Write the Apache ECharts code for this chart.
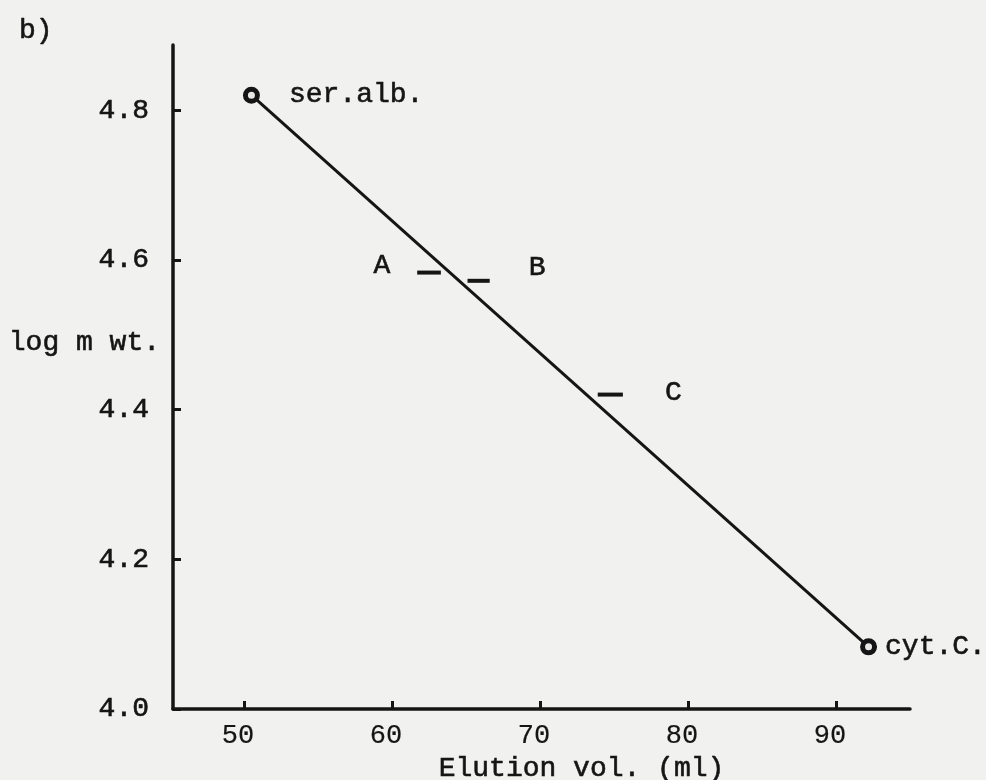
<!DOCTYPE html>
<html>
<head>
<meta charset="utf-8">
<title>Gel filtration calibration</title>
<script src="https://cdn.jsdelivr.net/npm/echarts@6/dist/echarts.min.js"></script>
<style>
  html, body { margin: 0; padding: 0; background: #f1f1ef; }
  #chart { width: 986px; height: 780px; }
</style>
</head>
<body>
<div id="chart"></div>
<script>
// Calibration standards: elution volume (ml) vs log molecular weight
const standardNames = ['ser.alb.', 'cyt.C.'];
const standardVolume = [50.5, 92.2];
const standardLogMW = [4.82, 4.083];

// Unknown fractions, each drawn as a short horizontal dash
const unknownNames = ['A', 'B', 'C'];
const unknownVolStart = [61.7, 65.1, 73.9];
const unknownVolEnd = [63.3, 66.6, 75.6];
const unknownLogMW = [4.583, 4.572, 4.42];

// Axis ticks
const xTicks = [50, 60, 70, 80, 90];
const yTicks = [4.0, 4.2, 4.4, 4.6, 4.8];

const INK = '#151515';
const FONT = '"Liberation Mono", "Courier New", monospace';
const textBase = {
  fontFamily: FONT,
  fontSize: 28,
  color: INK,
  textBorderColor: INK,
  textBorderWidth: 0.6
};

const chart = echarts.init(document.getElementById('chart'));

const standardLabelStyle = [
  { position: 'right', distance: 29, offset: [0, -1] },
  { position: 'right', distance: 8, offset: [0, 0] }
];
const unknownLabelStyle = [
  { side: 0, position: 'left', distance: 27, offset: [0, -7] },
  { side: 1, position: 'right', distance: 39, offset: [0, -13] },
  { side: 1, position: 'right', distance: 42, offset: [0, -2] }
];

const series = [];

// calibration line through the two standards
series.push({
  type: 'line',
  data: standardVolume.map((v, i) => ({
    value: [v, standardLogMW[i]],
    label: Object.assign({
      show: true,
      formatter: standardNames[i]
    }, textBase, standardLabelStyle[i])
  })),
  symbol: 'circle',
  symbolSize: 12,
  showSymbol: true,
  lineStyle: { color: INK, width: 3 },
  itemStyle: { color: '#e8e8e6', borderColor: INK, borderWidth: 5 },
  z: 3
});

// unknown fraction dashes
unknownNames.forEach((name, i) => {
  const st = unknownLabelStyle[i];
  const pts = [[unknownVolStart[i], unknownLogMW[i]], [unknownVolEnd[i], unknownLogMW[i]]];
  series.push({
    type: 'line',
    data: pts.map((p, k) => ({
      value: p,
      label: Object.assign({
        show: k === st.side,
        formatter: name
      }, textBase, { position: st.position, distance: st.distance, offset: st.offset })
    })),
    symbol: 'circle',
    symbolSize: 0,
    showSymbol: true,
    lineStyle: { color: INK, width: 4 },
    itemStyle: { color: INK },
    z: 2
  });
});

chart.setOption({
  backgroundColor: '#f1f1ef',
  animation: false,
  title: {
    text: 'b)',
    left: 14,
    top: 12,
    textStyle: Object.assign({}, textBase, { fontWeight: 'normal' })
  },
  grid: {
    left: 173, right: 76, top: 45, bottom: 71,
    containLabel: false,
    outerBoundsMode: 'none'
  },
  xAxis: {
    type: 'value',
    min: 45.2,
    max: 95.0,
    name: 'Elution vol. (ml)',
    nameLocation: 'middle',
    nameGap: 43,
    nameTextStyle: Object.assign({}, textBase, { padding: [0, 0, 0, 80] }),
    axisLine: { show: true, lineStyle: { color: INK, width: 3.5 } },
    axisTick: { show: true, inside: true, length: 8, lineStyle: { color: INK, width: 3 }, customValues: xTicks },
    axisLabel: Object.assign({}, textBase, {
      customValues: xTicks,
      margin: 13,
      fontSize: 27,
      textBorderWidth: 0.2,
      padding: [0, 12, 0, 0]
    }),
    splitLine: { show: false }
  },
  yAxis: {
    type: 'value',
    min: 4.0,
    max: 4.887,
    name: 'log m wt.',
    nameLocation: 'middle',
    nameRotate: 0,
    nameGap: 13,
    nameMoveOverlap: false,
    nameTextStyle: Object.assign({}, textBase, {
      align: 'right',
      verticalAlign: 'bottom',
      padding: [0, 0, 20, 0]
    }),
    axisLine: { show: true, lineStyle: { color: INK, width: 3.5 } },
    axisTick: { show: true, inside: true, length: 8, lineStyle: { color: INK, width: 3 }, customValues: yTicks },
    axisLabel: Object.assign({}, textBase, {
      customValues: yTicks,
      margin: 24,
      formatter: v => v.toFixed(1)
    }),
    splitLine: { show: false }
  },
  series: series
});
</script>
</body>
</html>
